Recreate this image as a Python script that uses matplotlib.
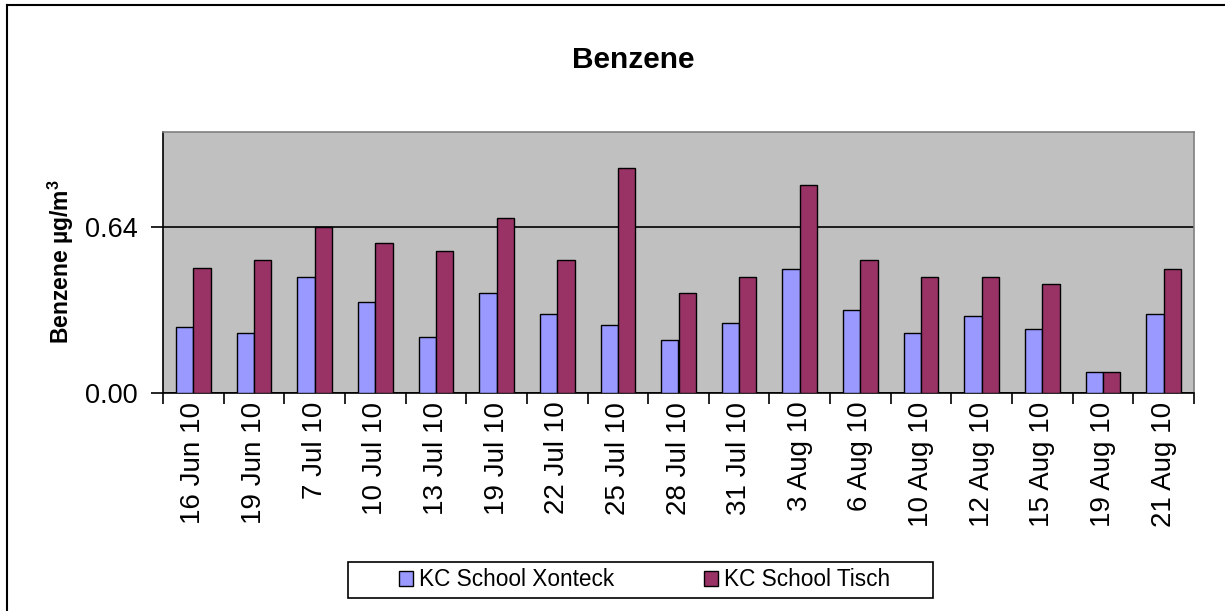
import numpy as np
import matplotlib
matplotlib.use("Agg")
import matplotlib.pyplot as plt
from matplotlib.lines import Line2D
from matplotlib.patches import Rectangle

plt.rcParams['font.family'] = ['Liberation Sans', 'DejaVu Sans']
plt.rcParams['mathtext.fontset'] = 'custom'
plt.rcParams['mathtext.rm'] = 'Liberation Sans'
plt.rcParams['mathtext.bf'] = 'Liberation Sans:bold'

COL1 = "#9999FF"
COL2 = "#993366"

dates = ["16 Jun 10", "19 Jun 10", "7 Jul 10", "10 Jul 10", "13 Jul 10",
         "19 Jul 10", "22 Jul 10", "25 Jul 10", "28 Jul 10", "31 Jul 10",
         "3 Aug 10", "6 Aug 10", "10 Aug 10", "12 Aug 10", "15 Aug 10",
         "19 Aug 10", "21 Aug 10"]
xonteck = [0.253, 0.232, 0.447, 0.352, 0.215, 0.386, 0.303, 0.263, 0.204,
           0.270, 0.478, 0.320, 0.232, 0.297, 0.248, 0.081, 0.303]
tisch = [0.480, 0.512, 0.640, 0.578, 0.545, 0.672, 0.512, 0.865, 0.385,
         0.447, 0.799, 0.512, 0.447, 0.447, 0.419, 0.081, 0.478]
yticks = [0.0, 0.64]

W, H = 1225, 611
fig = plt.figure(figsize=(W / 100, H / 100), dpi=100)
ax = fig.add_axes([163 / W, 1 - 393.3 / H, (1194 - 163) / W, (393.3 - 131.7) / H])
ax.set_facecolor("#C0C0C0")

x = np.arange(len(dates))
bw = 1 / 3.5
ax.bar(x - bw / 2, xonteck, bw, color=COL1, edgecolor="black", linewidth=1,
       label="KC School Xonteck", zorder=3)
ax.bar(x + bw / 2, tisch, bw, color=COL2, edgecolor="black", linewidth=1,
       label="KC School Tisch", zorder=3)

ax.set_xlim(-0.5, len(dates) - 0.5)
ax.set_ylim(0, 1.005)
ax.set_yticks(yticks)
ax.set_yticklabels([f"{v:.2f}" for v in yticks], fontsize=19.5)
ax.yaxis.grid(True, color="black", linewidth=1.2, zorder=1)
ax.set_axisbelow(True)

# ticks at category boundaries, labels at centres
ax.set_xticks(np.arange(-0.5, len(dates)), minor=False)
ax.set_xticklabels([])
ax.set_xticks(x, minor=True)
ax.set_xticklabels(dates, minor=True, rotation=90, fontsize=20)
ax.tick_params(axis="x", which="major", length=8, width=1.2, direction="out")
ax.tick_params(axis="x", which="minor", length=0, pad=6)
ax.tick_params(axis="y", length=9, width=1.2, pad=9)

for s in ["top", "right"]:
    ax.spines[s].set_color("#808080")
    ax.spines[s].set_linewidth(1.2)
for s in ["left", "bottom"]:
    ax.spines[s].set_color("black")
    ax.spines[s].set_linewidth(1.2)

fig.text(633 / W, 1 - 60 / H, "Benzene", fontsize=21.5, fontweight="bold",
         ha="center", va="center")
fig.text(61 / W, 1 - 262 / H, r"Benzene µg/m$^\mathbf{3}$", fontsize=16.5,
         fontweight="bold", rotation=90, ha="center", va="center")

# legend with a hand-drawn frame
fig.patches.append(Rectangle((348 / W, 1 - 598 / H), (933 - 348) / W, 36 / H,
                             transform=fig.transFigure, facecolor="white",
                             edgecolor="black", linewidth=1.2, zorder=1))
fig.legend(loc="center", bbox_to_anchor=(644.5 / W, 1 - 580 / H), ncol=2,
           frameon=False, fontsize=16.3, handlelength=0.62, handleheight=0.62,
           handletextpad=0.25, columnspacing=4.0)

# outer chart frame (left and top edges visible)
fig.lines.append(Line2D([6.5 / W, 6.5 / W], [0, 1 - 5 / H], transform=fig.transFigure,
                        color="black", linewidth=1.5))
fig.lines.append(Line2D([6.5 / W, 1], [1 - 5 / H, 1 - 5 / H], transform=fig.transFigure,
                        color="black", linewidth=1.5))

fig.savefig("out.png", dpi=100, facecolor="white")
